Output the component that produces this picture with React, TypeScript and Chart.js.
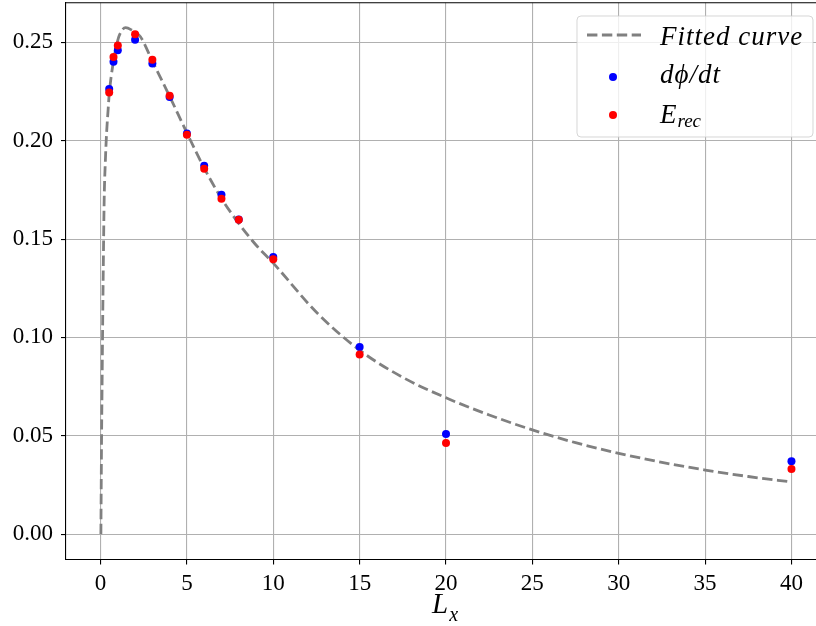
import { useEffect, useRef } from 'react';
import { Chart, registerables } from 'chart.js';

Chart.register(...registerables);

const WIDTH = 816;
const HEIGHT = 626;

// Measured samples: system size L_x and the two rate estimates
const lx = [0.5, 0.75, 1, 2, 3, 4, 5, 6, 7, 8, 10, 15, 20, 40];
const dphiDt = [0.2263, 0.2402, 0.246, 0.2513, 0.2393, 0.2223, 0.2037, 0.1873, 0.1726, 0.16, 0.1409, 0.0951, 0.0509, 0.0371];
const eRec = [0.2246, 0.2426, 0.2485, 0.2541, 0.2412, 0.2229, 0.2031, 0.1858, 0.1705, 0.1599, 0.1397, 0.0913, 0.0463, 0.0331];

// Fitted curve, sampled along L_x
const fitX = [0.02, 0.04, 0.06, 0.09, 0.115, 0.15, 0.21, 0.28, 0.35, 0.44, 0.5, 0.73, 1.0, 1.2, 1.45, 1.8, 2.3, 3.0, 4.0, 5.0, 6.0, 7.0, 8.0, 9.0, 10, 12.5, 15, 17.5, 20, 22.5, 25, 27.5, 30, 32.5, 35, 37.5, 40];
const fitY = [0.0, 0.026, 0.05, 0.077, 0.1, 0.129, 0.17, 0.19, 0.204, 0.216, 0.2235, 0.2395, 0.2512, 0.2556, 0.2575, 0.2563, 0.253, 0.2405, 0.2226, 0.204, 0.1861, 0.1707, 0.158, 0.147, 0.1378, 0.1128, 0.0935, 0.0797, 0.0693, 0.0606, 0.053, 0.0465, 0.0411, 0.0365, 0.0326, 0.0293, 0.0265];

const xTicks = [0, 5, 10, 15, 20, 25, 30, 35, 40];
const yTicks = [0, 0.05, 0.1, 0.15, 0.2, 0.25];

const SERIF = '"Liberation Serif", "DejaVu Serif", serif';
const GRID = '#b0b0b0';

const decorations = {
  id: 'decorations',
  afterDraw(chart: any) {
    const ctx: CanvasRenderingContext2D = chart.ctx;
    const { left, right, top } = chart.chartArea;
    ctx.save();

    // top spine
    ctx.strokeStyle = '#000';
    ctx.lineWidth = 1.1;
    ctx.beginPath();
    ctx.moveTo(left, top);
    ctx.lineTo(right, top);
    ctx.stroke();

    // x axis title L_x
    ctx.fillStyle = '#000';
    ctx.textBaseline = 'alphabetic';
    ctx.textAlign = 'left';
    ctx.font = `italic 29px ${SERIF}`;
    const wL = ctx.measureText('L').width;
    ctx.font = `italic 20px ${SERIF}`;
    const wx = ctx.measureText('x').width;
    const startX = 445 - (wL + wx + 1) / 2;
    ctx.font = `italic 29px ${SERIF}`;
    ctx.fillText('L', startX, 613);
    ctx.font = `italic 20px ${SERIF}`;
    ctx.fillText('x', startX + wL + 1, 621);

    // legend frame
    const bx = 577, by = 16, bw = 236, bh = 121;
    ctx.beginPath();
    if ((ctx as any).roundRect) (ctx as any).roundRect(bx, by, bw, bh, 4);
    else ctx.rect(bx, by, bw, bh);
    ctx.fillStyle = 'rgba(255,255,255,0.8)';
    ctx.fill();
    ctx.strokeStyle = 'rgba(204,204,204,0.8)';
    ctx.lineWidth = 1;
    ctx.stroke();

    // legend handles
    ctx.strokeStyle = 'gray';
    ctx.lineWidth = 2.8;
    ctx.setLineDash([10.4, 4.5]);
    ctx.beginPath();
    ctx.moveTo(587, 35);
    ctx.lineTo(641, 35);
    ctx.stroke();
    ctx.setLineDash([]);
    ctx.fillStyle = 'blue';
    ctx.beginPath();
    ctx.arc(613, 77, 4, 0, Math.PI * 2);
    ctx.fill();
    ctx.fillStyle = 'red';
    ctx.beginPath();
    ctx.arc(613, 115, 4, 0, Math.PI * 2);
    ctx.fill();

    // legend labels
    ctx.fillStyle = '#000';
    ctx.font = `italic 27px ${SERIF}`;
    (ctx as any).letterSpacing = '1px';
    ctx.fillText('Fitted curve', 660, 45);
    ctx.fillText('d\u03D5/dt', 660, 83);
    (ctx as any).letterSpacing = '0px';
    ctx.fillText('E', 660, 123);
    const wE = ctx.measureText('E').width;
    ctx.font = `italic 19px ${SERIF}`;
    ctx.fillText('rec', 660 + wE + 1, 127);

    ctx.restore();
  },
};

export default function App() {
  const canvasRef = useRef<HTMLCanvasElement>(null);

  useEffect(() => {
    document.body.style.margin = '0';
    const canvas = canvasRef.current;
    if (!canvas) return;

    const chart = new Chart(canvas, {
      type: 'scatter',
      data: {
        datasets: [
          {
            type: 'line',
            label: 'Fitted curve',
            data: fitX.map((x, i) => ({ x, y: fitY[i] })),
            borderColor: 'gray',
            borderWidth: 2.8,
            borderDash: [10.4, 4.5],
            pointRadius: 0,
            fill: false,
            cubicInterpolationMode: 'monotone',
            order: 3,
          } as any,
          {
            label: 'dϕ/dt',
            data: lx.map((x, i) => ({ x, y: dphiDt[i] })),
            backgroundColor: 'blue',
            borderWidth: 0,
            pointRadius: 4,
            order: 2,
          },
          {
            label: 'E_rec',
            data: lx.map((x, i) => ({ x, y: eRec[i] })),
            backgroundColor: 'red',
            borderWidth: 0,
            pointRadius: 4,
            order: 1,
          },
        ],
      },
      options: {
        animation: false,
        responsive: false,
        events: [],
        layout: { autoPadding: false, padding: { top: 2.7, left: 0, right: 0, bottom: 0 } },
        plugins: {
          legend: { display: false },
          tooltip: { enabled: false },
        },
        scales: {
          x: {
            type: 'linear',
            min: -2,
            max: 41.42,
            afterBuildTicks: (s: any) => {
              s.ticks = xTicks.map((value) => ({ value }));
            },
            afterFit: (s: any) => {
              s.height = 66.5;
              s.paddingLeft = 0;
              s.paddingRight = 0;
            },
            grid: { color: GRID, lineWidth: 1.1, tickColor: '#000', tickLength: 5, tickWidth: 1.1 },
            border: { color: '#000', width: 1.1 },
            ticks: {
              color: '#000',
              font: { family: SERIF, size: 23 },
              padding: 6,
              maxRotation: 0,
              autoSkip: false,
              callback: (v: any) => String(v),
            },
          },
          y: {
            type: 'linear',
            min: -0.0129,
            max: 0.2702,
            afterBuildTicks: (s: any) => {
              s.ticks = yTicks.map((value) => ({ value }));
            },
            afterFit: (s: any) => {
              s.width = 66;
              s.paddingTop = 0;
              s.paddingBottom = 0;
            },
            grid: { color: GRID, lineWidth: 1.1, tickColor: '#000', tickLength: 5, tickWidth: 1.1 },
            border: { color: '#000', width: 1.1 },
            ticks: {
              color: '#000',
              font: { family: SERIF, size: 23 },
              padding: 8,
              autoSkip: false,
              callback: (v: any) => Number(v).toFixed(2),
            },
          },
        },
      },
      plugins: [decorations],
    });

    return () => chart.destroy();
  }, []);

  return (
    <div style={{ width: WIDTH, height: HEIGHT }}>
      <canvas ref={canvasRef} width={WIDTH} height={HEIGHT} style={{ display: 'block', width: WIDTH, height: HEIGHT }} />
    </div>
  );
}
